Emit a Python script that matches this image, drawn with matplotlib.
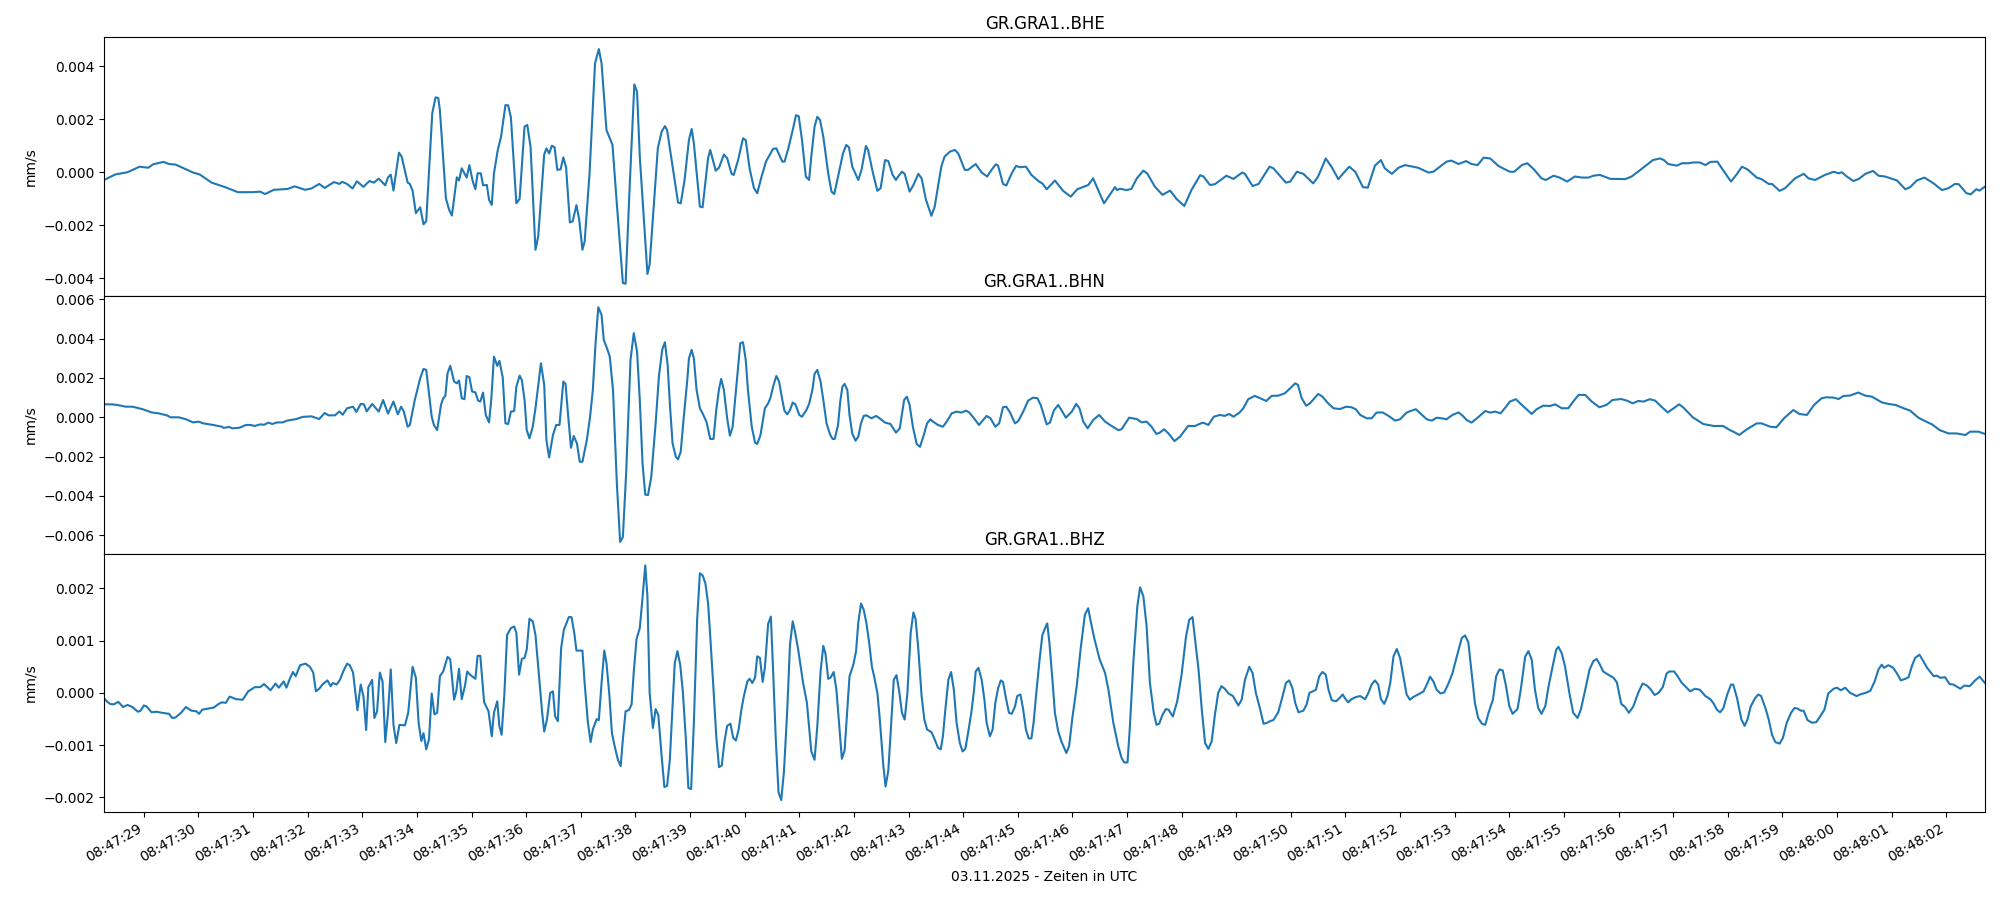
import numpy as np
import matplotlib
matplotlib.use("Agg")
import matplotlib.pyplot as plt
import matplotlib.dates as mdates
from datetime import datetime, timedelta

# Seconds after 08:47:00 and amplitude in 1e-3 mm/s
start_minute = datetime(2025, 11, 3, 8, 47, 0)
channels = ["GR.GRA1..BHE", "GR.GRA1..BHN", "GR.GRA1..BHZ"]

bhe_sec = [
    28.27, 28.48, 28.70, 28.92, 29.08, 29.17, 29.36, 29.46, 29.58, 29.74,
    29.90, 30.02, 30.24, 30.50, 30.72, 31.00, 31.13, 31.22, 31.38, 31.63,
    31.76, 31.95, 32.07, 32.21, 32.31, 32.48, 32.58, 32.63, 32.72, 32.82,
    32.90, 33.02, 33.13, 33.21, 33.30, 33.42, 33.47, 33.52, 33.57, 33.67,
    33.72, 33.83, 33.87, 33.92, 33.98, 34.06, 34.12, 34.17, 34.28, 34.34,
    34.39, 34.42, 34.53, 34.59, 34.64, 34.73, 34.77, 34.82, 34.91, 34.96,
    35.02, 35.07, 35.11, 35.17, 35.21, 35.28, 35.32, 35.37, 35.41, 35.48,
    35.54, 35.62, 35.67, 35.72, 35.82, 35.88, 35.97, 36.02, 36.08, 36.17,
    36.22, 36.33, 36.37, 36.42, 36.47, 36.52, 36.57, 36.63, 36.68, 36.73,
    36.80, 36.85, 36.92, 36.97, 37.03, 37.07, 37.16, 37.26, 37.33, 37.38,
    37.47, 37.53, 37.58, 37.65, 37.77, 37.82, 37.90, 37.98, 38.03, 38.08,
    38.22, 38.26, 38.41, 38.48, 38.54, 38.58, 38.69, 38.78, 38.83, 38.90,
    38.98, 39.03, 39.07, 39.18, 39.23, 39.33, 39.37, 39.47, 39.53, 39.62,
    39.68, 39.76, 39.80, 39.88, 39.97, 40.02, 40.09, 40.17, 40.23, 40.31,
    40.39, 40.52, 40.58, 40.69, 40.73, 40.80, 40.88, 40.94, 40.99, 41.05,
    41.12, 41.18, 41.22, 41.28, 41.33, 41.38, 41.44, 41.53, 41.59, 41.64,
    41.71, 41.80, 41.86, 41.91, 41.97, 42.05, 42.08, 42.14, 42.22, 42.26,
    42.35, 42.43, 42.49, 42.57, 42.63, 42.71, 42.77, 42.81, 42.88, 42.93,
    43.02, 43.09, 43.18, 43.24, 43.32, 43.42, 43.48, 43.60, 43.66, 43.76,
    43.85, 43.91, 44.03, 44.09, 44.23, 44.34, 44.44, 44.52, 44.60, 44.64,
    44.73, 44.79, 44.89, 44.97, 45.04, 45.15, 45.25, 45.39, 45.45, 45.53,
    45.68, 45.83, 45.97, 46.09, 46.29, 46.38, 46.58, 46.78, 46.82, 46.87,
    46.99, 47.08, 47.18, 47.30, 47.37, 47.51, 47.65, 47.79, 47.91, 48.05,
    48.18, 48.34, 48.40, 48.52, 48.61, 48.82, 48.95, 49.11, 49.16, 49.30,
    49.41, 49.61, 49.68, 49.91, 49.99, 50.11, 50.23, 50.41, 50.50, 50.64,
    50.75, 50.87, 50.96, 51.07, 51.18, 51.32, 51.41, 51.54, 51.65, 51.72,
    51.85, 51.97, 52.09, 52.33, 52.52, 52.61, 52.73, 52.85, 52.94, 53.07,
    53.21, 53.31, 53.42, 53.53, 53.65, 53.80, 53.92, 54.01, 54.09, 54.23,
    54.33, 54.45, 54.59, 54.67, 54.81, 54.92, 55.06, 55.20, 55.33, 55.45,
    55.54, 55.66, 55.85, 55.97, 56.12, 56.24, 56.40, 56.63, 56.76, 56.83,
    56.91, 57.07, 57.16, 57.28, 57.37, 57.49, 57.59, 57.68, 57.81, 57.92,
    58.06, 58.17, 58.26, 58.36, 58.53, 58.62, 58.75, 58.81, 58.95, 59.05,
    59.23, 59.39, 59.48, 59.60, 59.78, 59.94, 60.03, 60.09, 60.18, 60.30,
    60.40, 60.52, 60.66, 60.76, 60.88, 61.10, 61.25, 61.34, 61.46, 61.60,
    61.77, 61.92, 62.04, 62.16, 62.23, 62.37, 62.45, 62.55, 62.61, 62.71,
]
bhe_val = [
    -0.29, -0.08, 0.00, 0.21, 0.17, 0.30, 0.39, 0.31, 0.29, 0.14,
    -0.01, -0.08, -0.39, -0.57, -0.75, -0.75, -0.73, -0.82, -0.66, -0.63,
    -0.53, -0.66, -0.61, -0.44, -0.59, -0.37, -0.44, -0.36, -0.44, -0.61,
    -0.34, -0.55, -0.33, -0.39, -0.24, -0.49, -0.19, -0.09, -0.69, 0.74,
    0.59, -0.39, -0.44, -0.69, -1.54, -1.32, -1.96, -1.84, 2.22, 2.82,
    2.80, 2.34, -0.98, -1.42, -1.63, -0.19, -0.31, 0.15, -0.20, 0.27,
    -0.33, -0.64, -0.04, -0.04, -0.49, -0.48, -1.04, -1.23, -0.04, 0.84,
    1.34, 2.53, 2.52, 2.07, -1.17, -1.00, 1.72, 1.78, 0.96, -2.92,
    -2.42, 0.67, 0.90, 0.71, 1.00, 0.94, 0.09, 0.11, 0.56, 0.19,
    -1.89, -1.85, -1.24, -1.77, -2.92, -2.61, -0.04, 4.10, 4.64, 4.10,
    1.59, 1.28, 1.03, -0.92, -4.17, -4.20, -0.29, 3.31, 3.03, 0.59,
    -3.83, -3.48, 0.90, 1.53, 1.74, 1.59, 0.09, -1.14, -1.17, -0.29,
    1.22, 1.63, 1.09, -1.29, -1.32, 0.53, 0.84, 0.06, 0.17, 0.67,
    0.53, -0.06, -0.10, 0.46, 1.28, 1.21, 0.15, -0.60, -0.79, -0.16,
    0.40, 0.88, 0.90, 0.40, 0.40, 0.90, 1.59, 2.15, 2.11, 1.21,
    -0.16, -0.29, 0.59, 1.72, 2.09, 1.97, 1.34, -0.04, -0.73, -0.82,
    -0.16, 0.71, 1.03, 0.94, 0.21, -0.16, -0.29, 0.09, 0.99, 0.84,
    -0.04, -0.70, -0.60, 0.46, 0.42, -0.10, -0.29, -0.16, 0.02, -0.06,
    -0.73, -0.48, -0.06, -0.23, -1.04, -1.64, -1.29, 0.21, 0.59, 0.78,
    0.84, 0.71, 0.09, 0.09, 0.31, -0.01, -0.16, 0.09, 0.30, 0.25,
    -0.44, -0.50, -0.04, 0.24, 0.19, 0.21, -0.10, -0.35, -0.42, -0.64,
    -0.31, -0.70, -0.92, -0.64, -0.48, -0.23, -1.17, -0.56, -0.67, -0.62,
    -0.67, -0.63, -0.23, 0.06, -0.04, -0.54, -0.85, -0.69, -1.01, -1.27,
    -0.67, -0.11, -0.16, -0.48, -0.45, -0.13, -0.25, -0.01, -0.06, -0.52,
    -0.44, 0.21, 0.15, -0.39, -0.35, 0.02, -0.06, -0.42, -0.16, 0.52,
    0.19, -0.26, -0.04, 0.21, 0.02, -0.56, -0.58, 0.25, 0.46, 0.15,
    -0.06, 0.17, 0.27, 0.17, -0.01, 0.02, 0.21, 0.40, 0.44, 0.31,
    0.42, 0.31, 0.27, 0.55, 0.52, 0.24, 0.11, 0.02, 0.02, 0.27,
    0.34, 0.11, -0.23, -0.29, -0.13, -0.20, -0.35, -0.16, -0.20, -0.20,
    -0.13, -0.10, -0.25, -0.25, -0.26, -0.16, 0.09, 0.46, 0.52, 0.46,
    0.31, 0.25, 0.34, 0.34, 0.37, 0.37, 0.27, 0.39, 0.40, 0.06,
    -0.35, -0.06, 0.21, 0.11, -0.20, -0.26, -0.44, -0.44, -0.70, -0.60,
    -0.23, -0.06, -0.23, -0.29, -0.10, 0.02, -0.04, 0.00, -0.16, -0.33,
    -0.25, -0.06, 0.05, -0.13, -0.16, -0.31, -0.64, -0.56, -0.31, -0.20,
    -0.42, -0.67, -0.60, -0.44, -0.45, -0.79, -0.83, -0.64, -0.69, -0.54,
]

bhn_sec = [
    28.27, 28.41, 28.51, 28.67, 28.79, 28.98, 29.14, 29.27, 29.42, 29.49,
    29.64, 29.77, 29.90, 30.00, 30.09, 30.27, 30.43, 30.46, 30.56, 30.62,
    30.75, 30.87, 30.95, 31.03, 31.13, 31.20, 31.28, 31.35, 31.44, 31.54,
    31.62, 31.79, 31.91, 32.07, 32.14, 32.21, 32.31, 32.38, 32.50, 32.58,
    32.64, 32.72, 32.83, 32.89, 32.97, 33.03, 33.08, 33.18, 33.30, 33.38,
    33.47, 33.57, 33.65, 33.71, 33.76, 33.83, 33.87, 33.96, 34.06, 34.12,
    34.17, 34.27, 34.31, 34.37, 34.44, 34.48, 34.52, 34.56, 34.61, 34.68,
    34.73, 34.77, 34.82, 34.87, 34.91, 34.96, 35.01, 35.07, 35.12, 35.16,
    35.21, 35.26, 35.32, 35.36, 35.41, 35.47, 35.51, 35.57, 35.62, 35.67,
    35.72, 35.78, 35.82, 35.88, 35.92, 35.97, 36.01, 36.06, 36.12, 36.17,
    36.27, 36.33, 36.37, 36.42, 36.49, 36.55, 36.61, 36.68, 36.72, 36.77,
    36.82, 36.87, 36.93, 36.98, 37.03, 37.11, 37.17, 37.22, 37.27, 37.32,
    37.38, 37.42, 37.48, 37.53, 37.59, 37.66, 37.72, 37.77, 37.83, 37.91,
    37.97, 38.03, 38.08, 38.13, 38.18, 38.23, 38.29, 38.37, 38.43, 38.49,
    38.54, 38.59, 38.63, 38.68, 38.74, 38.78, 38.83, 38.88, 38.95, 38.98,
    39.03, 39.07, 39.12, 39.18, 39.23, 39.30, 39.37, 39.43, 39.48, 39.53,
    39.57, 39.62, 39.68, 39.73, 39.78, 39.83, 39.88, 39.92, 39.97, 40.02,
    40.06, 40.13, 40.19, 40.23, 40.29, 40.37, 40.43, 40.47, 40.53, 40.58,
    40.63, 40.69, 40.73, 40.78, 40.83, 40.88, 40.93, 41.00, 41.05, 41.13,
    41.18, 41.24, 41.28, 41.33, 41.39, 41.44, 41.50, 41.56, 41.61, 41.65,
    41.71, 41.75, 41.79, 41.83, 41.88, 41.92, 41.97, 42.03, 42.08, 42.13,
    42.18, 42.23, 42.32, 42.41, 42.47, 42.57, 42.67, 42.77, 42.84, 42.92,
    42.97, 43.02, 43.08, 43.15, 43.21, 43.27, 43.34, 43.40, 43.45, 43.54,
    43.63, 43.70, 43.79, 43.88, 43.97, 44.05, 44.11, 44.20, 44.29, 44.43,
    44.50, 44.59, 44.66, 44.73, 44.79, 44.86, 44.95, 45.01, 45.10, 45.19,
    45.28, 45.36, 45.42, 45.53, 45.59, 45.66, 45.74, 45.80, 45.88, 45.99,
    46.07, 46.13, 46.20, 46.28, 46.38, 46.49, 46.60, 46.69, 46.84, 46.90,
    47.04, 47.18, 47.27, 47.36, 47.45, 47.54, 47.60, 47.68, 47.76, 47.87,
    47.97, 48.12, 48.25, 48.31, 48.39, 48.49, 48.59, 48.70, 48.79, 48.87,
    48.95, 49.06, 49.13, 49.22, 49.34, 49.44, 49.55, 49.65, 49.77, 49.89,
    49.99, 50.08, 50.13, 50.20, 50.28, 50.35, 50.50, 50.58, 50.67, 50.78,
    50.90, 51.01, 51.11, 51.19, 51.27, 51.39, 51.48, 51.57, 51.68, 51.79,
    51.91, 52.00, 52.12, 52.21, 52.29, 52.37, 52.49, 52.58, 52.67, 52.76,
    52.85, 52.96, 53.07, 53.15, 53.22, 53.31, 53.42, 53.56, 53.65, 53.74,
    53.84, 53.94, 54.01, 54.12, 54.23, 54.41, 54.50, 54.62, 54.75, 54.84,
    54.96, 55.08, 55.17, 55.27, 55.39, 55.51, 55.65, 55.78, 55.89, 56.05,
    56.15, 56.26, 56.36, 56.46, 56.57, 56.67, 56.77, 56.90, 57.01, 57.11,
    57.19, 57.36, 57.55, 57.74, 57.91, 58.04, 58.13, 58.21, 58.35, 58.53,
    58.62, 58.78, 58.89, 59.03, 59.20, 59.31, 59.45, 59.58, 59.72, 59.81,
    59.94, 60.03, 60.12, 60.23, 60.30, 60.39, 60.52, 60.64, 60.82, 60.94,
    61.07, 61.22, 61.34, 61.49, 61.61, 61.74, 61.88, 62.04, 62.19, 62.35,
    62.44, 62.59, 62.71,
]
bhn_val = [
    0.66, 0.66, 0.63, 0.54, 0.54, 0.41, 0.25, 0.20, 0.10, 0.00,
    0.00, -0.10, -0.26, -0.22, -0.31, -0.39, -0.48, -0.54, -0.49, -0.56,
    -0.53, -0.39, -0.39, -0.44, -0.36, -0.38, -0.27, -0.34, -0.26, -0.26,
    -0.17, -0.09, 0.02, 0.05, -0.02, -0.09, 0.22, 0.10, 0.10, 0.30,
    0.13, 0.46, 0.54, 0.27, 0.68, 0.66, 0.30, 0.68, 0.29, 0.88,
    0.19, 0.80, 0.15, 0.54, 0.29, -0.48, -0.39, 0.88, 1.99, 2.46,
    2.41, 0.03, -0.39, -0.65, 0.63, 0.97, 1.09, 2.24, 2.62, 1.82,
    1.73, 1.87, 0.97, 0.92, 2.10, 2.04, 1.31, 1.27, 0.85, 0.80,
    1.26, 0.12, -0.26, 0.88, 3.09, 2.62, 2.87, 2.04, -0.31, -0.34,
    0.29, 0.32, 1.56, 2.12, 1.90, 0.88, -0.65, -1.07, -0.48, 0.46,
    2.75, 1.65, -1.16, -2.04, -0.90, -0.39, -0.39, 1.82, 1.70, 0.03,
    -1.55, -0.95, -1.33, -2.26, -2.26, -1.16, 0.03, 1.39, 3.77, 5.60,
    5.21, 3.94, 3.51, 3.09, 1.39, -3.37, -6.34, -6.09, -2.86, 2.92,
    4.28, 3.34, 0.88, -2.35, -3.93, -3.96, -3.03, -0.31, 2.07, 3.43,
    3.82, 2.66, 0.71, -1.33, -2.01, -2.14, -1.75, -0.14, 1.90, 3.00,
    3.43, 3.00, 1.39, 0.46, 0.20, -0.22, -1.10, -1.10, 0.37, 1.42,
    1.95, 1.39, -0.05, -0.94, -0.48, 1.05, 2.58, 3.77, 3.82, 2.92,
    1.39, -0.48, -1.28, -1.36, -0.90, 0.46, 0.71, 0.97, 1.65, 2.10,
    1.82, 0.88, 0.32, 0.15, 0.37, 0.75, 0.66, 0.12, 0.03, 0.37,
    0.68, 1.39, 2.21, 2.41, 1.82, 0.88, -0.31, -0.85, -1.10, -1.10,
    -0.39, 0.80, 1.56, 1.70, 1.39, 0.12, -0.82, -1.19, -0.99, -0.31,
    0.07, 0.10, -0.05, 0.07, -0.05, -0.27, -0.34, -0.78, -0.56, 0.88,
    1.05, 0.63, -0.48, -1.36, -1.50, -0.99, -0.31, -0.10, -0.22, -0.39,
    -0.48, -0.22, 0.20, 0.29, 0.24, 0.34, 0.25, -0.05, -0.39, 0.07,
    -0.05, -0.48, -0.31, 0.51, 0.54, 0.24, -0.31, -0.19, 0.29, 0.85,
    1.00, 0.97, 0.63, -0.36, -0.27, 0.34, 0.63, 0.37, -0.02, 0.29,
    0.68, 0.46, -0.22, -0.56, -0.14, 0.12, -0.22, -0.39, -0.65, -0.61,
    -0.02, -0.09, -0.26, -0.22, -0.48, -0.85, -0.78, -0.61, -0.82, -1.21,
    -0.99, -0.44, -0.44, -0.36, -0.27, -0.39, 0.03, 0.12, 0.07, 0.17,
    0.03, 0.24, 0.46, 0.92, 1.09, 0.97, 0.83, 1.09, 1.10, 1.22,
    1.48, 1.73, 1.65, 0.97, 0.59, 0.71, 1.19, 1.05, 0.75, 0.46,
    0.42, 0.54, 0.51, 0.41, 0.12, -0.05, -0.05, 0.24, 0.25, 0.07,
    -0.17, -0.10, 0.24, 0.34, 0.41, 0.20, -0.10, -0.17, -0.02, -0.05,
    -0.10, 0.12, 0.25, 0.07, -0.14, -0.27, -0.02, 0.32, 0.24, 0.29,
    0.20, 0.54, 0.80, 0.92, 0.63, 0.17, 0.41, 0.59, 0.58, 0.66,
    0.46, 0.46, 0.80, 1.14, 1.14, 0.80, 0.51, 0.63, 0.88, 0.93,
    0.85, 0.71, 0.83, 0.80, 0.92, 0.85, 0.58, 0.25, 0.46, 0.66,
    0.49, 0.00, -0.34, -0.44, -0.44, -0.65, -0.77, -0.90, -0.61, -0.31,
    -0.31, -0.48, -0.51, -0.05, 0.37, 0.17, 0.12, 0.63, 0.97, 1.02,
    1.00, 0.93, 1.09, 1.10, 1.17, 1.26, 1.10, 1.05, 0.76, 0.68,
    0.63, 0.46, 0.34, -0.02, -0.19, -0.36, -0.65, -0.82, -0.82, -0.90,
    -0.73, -0.73, -0.85,
]

bhz_sec = [
    28.27, 28.32, 28.38, 28.45, 28.53, 28.62, 28.70, 28.79, 28.89, 28.94,
    29.00, 29.05, 29.14, 29.23, 29.33, 29.46, 29.52, 29.58, 29.68, 29.77,
    29.87, 29.96, 30.01, 30.07, 30.18, 30.28, 30.37, 30.43, 30.50, 30.57,
    30.69, 30.81, 30.91, 31.03, 31.13, 31.20, 31.32, 31.41, 31.47, 31.56,
    31.61, 31.68, 31.73, 31.78, 31.86, 31.96, 32.04, 32.10, 32.15, 32.21,
    32.27, 32.36, 32.42, 32.46, 32.53, 32.59, 32.65, 32.72, 32.77, 32.83,
    32.91, 32.97, 33.02, 33.07, 33.11, 33.18, 33.22, 33.27, 33.32, 33.37,
    33.42, 33.47, 33.52, 33.57, 33.62, 33.68, 33.78, 33.84, 33.92, 33.98,
    34.03, 34.08, 34.12, 34.17, 34.22, 34.27, 34.32, 34.37, 34.42, 34.48,
    34.56, 34.61, 34.68, 34.72, 34.77, 34.82, 34.88, 34.92, 34.97, 35.07,
    35.11, 35.16, 35.23, 35.31, 35.37, 35.41, 35.47, 35.51, 35.55, 35.60,
    35.65, 35.72, 35.78, 35.82, 35.87, 35.92, 35.97, 36.01, 36.06, 36.12,
    36.17, 36.23, 36.29, 36.33, 36.38, 36.44, 36.49, 36.53, 36.58, 36.64,
    36.69, 36.74, 36.78, 36.83, 36.88, 36.92, 37.03, 37.07, 37.13, 37.18,
    37.22, 37.29, 37.33, 37.38, 37.43, 37.47, 37.52, 37.57, 37.62, 37.68,
    37.73, 37.77, 37.82, 37.88, 37.93, 37.97, 38.02, 38.08, 38.13, 38.18,
    38.22, 38.26, 38.32, 38.37, 38.42, 38.48, 38.53, 38.58, 38.63, 38.68,
    38.72, 38.77, 38.82, 38.87, 38.92, 38.97, 39.02, 39.07, 39.13, 39.18,
    39.23, 39.28, 39.33, 39.37, 39.43, 39.48, 39.53, 39.58, 39.63, 39.68,
    39.74, 39.79, 39.84, 39.89, 39.94, 39.99, 40.05, 40.09, 40.14, 40.19,
    40.23, 40.28, 40.33, 40.37, 40.43, 40.48, 40.52, 40.57, 40.62, 40.67,
    40.72, 40.78, 40.83, 40.88, 40.92, 40.98, 41.07, 41.14, 41.22, 41.28,
    41.33, 41.39, 41.44, 41.48, 41.53, 41.57, 41.63, 41.68, 41.73, 41.78,
    41.83, 41.88, 41.92, 41.99, 42.04, 42.08, 42.13, 42.18, 42.23, 42.28,
    42.33, 42.37, 42.43, 42.47, 42.54, 42.58, 42.63, 42.68, 42.73, 42.78,
    42.83, 42.88, 42.93, 42.98, 43.04, 43.09, 43.13, 43.18, 43.24, 43.29,
    43.34, 43.42, 43.48, 43.54, 43.59, 43.63, 43.68, 43.73, 43.78, 43.83,
    43.88, 43.94, 43.99, 44.04, 44.09, 44.15, 44.20, 44.23, 44.28, 44.34,
    44.39, 44.43, 44.49, 44.54, 44.59, 44.64, 44.69, 44.73, 44.79, 44.84,
    44.89, 44.95, 44.99, 45.05, 45.10, 45.15, 45.20, 45.25, 45.29, 45.34,
    45.40, 45.45, 45.50, 45.54, 45.58, 45.64, 45.68, 45.74, 45.80, 45.89,
    45.94, 46.00, 46.08, 46.15, 46.23, 46.29, 46.33, 46.40, 46.50, 46.60,
    46.66, 46.75, 46.84, 46.90, 46.95, 47.01, 47.05, 47.12, 47.19, 47.24,
    47.30, 47.36, 47.42, 47.49, 47.54, 47.59, 47.65, 47.71, 47.76, 47.84,
    47.92, 48.00, 48.08, 48.14, 48.20, 48.24, 48.31, 48.37, 48.43, 48.49,
    48.55, 48.61, 48.67, 48.73, 48.79, 48.86, 48.94, 49.04, 49.10, 49.16,
    49.24, 49.30, 49.36, 49.44, 49.50, 49.57, 49.62, 49.68, 49.77, 49.85,
    49.91, 49.97, 50.03, 50.08, 50.14, 50.23, 50.29, 50.34, 50.40, 50.46,
    50.52, 50.58, 50.64, 50.69, 50.75, 50.83, 50.89, 50.95, 50.99, 51.05,
    51.11, 51.19, 51.27, 51.36, 51.42, 51.48, 51.54, 51.60, 51.65, 51.71,
    51.77, 51.82, 51.88, 51.94, 52.00, 52.06, 52.12, 52.18, 52.24, 52.33,
    52.43, 52.49, 52.55, 52.61, 52.67, 52.74, 52.81, 52.89, 52.96, 53.04,
    53.13, 53.19, 53.25, 53.31, 53.37, 53.43, 53.50, 53.56, 53.62, 53.70,
    53.76, 53.82, 53.88, 53.94, 54.00, 54.06, 54.15, 54.21, 54.29, 54.35,
    54.41, 54.47, 54.53, 54.59, 54.66, 54.72, 54.80, 54.86, 54.90, 54.96,
    55.02, 55.10, 55.17, 55.25, 55.31, 55.39, 55.47, 55.54, 55.60, 55.65,
    55.72, 55.81, 55.91, 55.97, 56.05, 56.12, 56.19, 56.27, 56.36, 56.44,
    56.52, 56.58, 56.66, 56.73, 56.81, 56.88, 56.93, 57.02, 57.08, 57.16,
    57.22, 57.31, 57.40, 57.49, 57.59, 57.68, 57.74, 57.80, 57.86, 57.92,
    57.99, 58.06, 58.10, 58.17, 58.25, 58.31, 58.36, 58.42, 58.50, 58.56,
    58.61, 58.69, 58.75, 58.81, 58.87, 58.95, 59.01, 59.08, 59.16, 59.22,
    59.28, 59.34, 59.39, 59.46, 59.54, 59.62, 59.69, 59.77, 59.84, 59.94,
    60.00, 60.07, 60.15, 60.24, 60.36, 60.42, 60.52, 60.61, 60.69, 60.76,
    60.82, 60.86, 60.94, 61.03, 61.10, 61.17, 61.25, 61.31, 61.37, 61.43,
    61.51, 61.58, 61.65, 61.77, 61.83, 61.89, 61.98, 62.06, 62.13, 62.26,
    62.33, 62.43, 62.53, 62.61, 62.71,
]
bhz_val = [
    -0.10, -0.16, -0.21, -0.22, -0.17, -0.27, -0.23, -0.27, -0.36, -0.34,
    -0.24, -0.26, -0.37, -0.36, -0.38, -0.40, -0.48, -0.47, -0.38, -0.27,
    -0.34, -0.35, -0.40, -0.32, -0.30, -0.28, -0.21, -0.18, -0.19, -0.07,
    -0.12, -0.13, 0.03, 0.11, 0.11, 0.17, 0.05, 0.18, 0.10, 0.22,
    0.10, 0.29, 0.40, 0.32, 0.53, 0.56, 0.50, 0.39, 0.03, 0.08,
    0.16, 0.24, 0.13, 0.19, 0.16, 0.25, 0.41, 0.56, 0.53, 0.39,
    -0.33, 0.16, -0.06, -0.71, 0.11, 0.25, -0.48, -0.35, 0.39, 0.22,
    -0.94, -0.38, 0.45, -0.61, -0.96, -0.61, -0.62, -0.38, 0.50, 0.29,
    -0.57, -0.92, -0.77, -1.08, -0.89, -0.01, -0.41, -0.38, 0.32, 0.41,
    0.69, 0.64, -0.13, 0.03, 0.46, -0.12, 0.14, 0.41, 0.35, 0.27,
    0.71, 0.71, -0.18, -0.35, -0.83, -0.38, -0.16, -0.64, -0.80, -0.03,
    1.11, 1.24, 1.27, 1.15, 0.35, 0.65, 0.67, 0.83, 1.42, 1.37,
    1.11, 0.38, -0.35, -0.74, -0.51, 0.00, 0.03, -0.45, -0.54, 0.86,
    1.21, 1.34, 1.45, 1.45, 1.15, 0.81, 0.81, 0.19, -0.57, -0.94,
    -0.70, -0.50, -0.52, 0.19, 0.81, 0.57, 0.00, -0.77, -1.02, -1.28,
    -1.40, -0.89, -0.35, -0.33, -0.22, 0.41, 1.03, 1.24, 1.82, 2.44,
    1.85, 0.00, -0.67, -0.31, -0.43, -1.21, -1.80, -1.78, -1.28, -0.26,
    0.57, 0.80, 0.54, 0.00, -0.83, -1.82, -1.84, -0.57, 1.40, 2.29,
    2.25, 2.10, 1.72, 1.08, 0.06, -0.83, -1.42, -1.39, -0.93, -0.63,
    -0.59, -0.86, -0.91, -0.70, -0.32, -0.04, 0.22, 0.27, 0.19, 0.29,
    0.70, 0.67, 0.21, 0.48, 1.32, 1.46, 0.45, -0.89, -1.90, -2.05,
    -1.50, -0.32, 0.92, 1.37, 1.18, 0.83, 0.19, -0.19, -1.12, -1.28,
    -0.64, 0.41, 0.90, 0.75, 0.27, 0.29, 0.40, 0.06, -0.61, -1.26,
    -1.10, -0.32, 0.32, 0.54, 0.80, 1.34, 1.71, 1.59, 1.33, 0.96,
    0.50, 0.32, 0.00, -0.45, -1.40, -1.79, -1.49, -0.64, 0.25, 0.34,
    0.03, -0.38, -0.51, 0.00, 1.15, 1.54, 1.41, 0.83, -0.06, -0.51,
    -0.70, -0.75, -0.89, -1.05, -1.08, -0.83, -0.26, 0.25, 0.40, 0.06,
    -0.57, -0.96, -1.12, -1.07, -0.77, -0.38, 0.06, 0.41, 0.48, 0.25,
    -0.13, -0.57, -0.83, -0.70, -0.19, 0.09, 0.24, 0.21, -0.13, -0.38,
    -0.40, -0.26, -0.06, -0.03, -0.32, -0.70, -0.87, -0.87, -0.57, 0.00,
    0.64, 1.10, 1.24, 1.33, 0.96, 0.19, -0.38, -0.73, -0.93, -1.15,
    -1.02, -0.48, 0.13, 0.83, 1.50, 1.62, 1.40, 1.05, 0.64, 0.38,
    0.06, -0.57, -1.02, -1.24, -1.33, -1.33, -0.70, 0.64, 1.66, 2.02,
    1.85, 1.27, 0.19, -0.38, -0.61, -0.59, -0.42, -0.31, -0.32, -0.45,
    -0.16, 0.35, 1.07, 1.40, 1.45, 1.08, 0.45, -0.32, -0.96, -1.07,
    -0.93, -0.42, 0.00, 0.13, 0.08, -0.01, -0.06, -0.24, -0.13, 0.25,
    0.50, 0.38, 0.00, -0.32, -0.59, -0.57, -0.54, -0.52, -0.37, -0.06,
    0.19, 0.24, 0.09, -0.19, -0.37, -0.34, -0.22, 0.00, 0.03, 0.06,
    0.32, 0.40, 0.35, 0.06, -0.14, -0.16, -0.10, -0.03, -0.10, -0.18,
    -0.12, -0.08, -0.06, -0.12, 0.00, 0.16, 0.24, 0.16, -0.12, -0.21,
    -0.06, 0.19, 0.70, 0.84, 0.67, 0.32, -0.03, -0.13, -0.08, -0.03,
    0.03, 0.16, 0.31, 0.22, 0.06, -0.01, 0.01, 0.19, 0.38, 0.70,
    1.05, 1.10, 0.97, 0.38, -0.19, -0.48, -0.59, -0.61, -0.38, -0.13,
    0.32, 0.45, 0.43, 0.13, -0.25, -0.40, -0.31, 0.06, 0.69, 0.80,
    0.64, 0.06, -0.29, -0.40, -0.25, 0.13, 0.54, 0.83, 0.88, 0.76,
    0.51, 0.00, -0.38, -0.48, -0.32, 0.06, 0.45, 0.61, 0.65, 0.56,
    0.41, 0.35, 0.29, 0.20, -0.21, -0.27, -0.38, -0.26, 0.00, 0.18,
    0.14, 0.08, -0.04, 0.00, 0.11, 0.37, 0.41, 0.41, 0.32, 0.19,
    0.13, 0.03, 0.08, 0.06, -0.06, -0.12, -0.20, -0.32, -0.37, -0.29,
    -0.03, 0.16, 0.16, -0.10, -0.51, -0.63, -0.51, -0.26, -0.10, -0.03,
    -0.06, -0.29, -0.51, -0.80, -0.94, -0.97, -0.86, -0.57, -0.38, -0.29,
    -0.30, -0.34, -0.34, -0.52, -0.57, -0.56, -0.45, -0.32, -0.01, 0.08,
    0.10, 0.05, 0.10, 0.00, -0.06, -0.03, 0.00, 0.04, 0.22, 0.45,
    0.54, 0.48, 0.53, 0.48, 0.37, 0.24, 0.27, 0.30, 0.51, 0.67,
    0.73, 0.61, 0.48, 0.32, 0.33, 0.29, 0.30, 0.17, 0.16, 0.08,
    0.14, 0.13, 0.24, 0.31, 0.19,
]

traces = [(bhe_sec, bhe_val), (bhn_sec, bhn_val), (bhz_sec, bhz_val)]

fig, axes = plt.subplots(3, 1, figsize=(20, 9), dpi=100, sharex=True)

for ax, name, (sec, val) in zip(axes, channels, traces):
    assert len(sec) == len(val), name
    times = [start_minute + timedelta(seconds=s) for s in sec]
    ax.plot(mdates.date2num(times), np.array(val) * 1e-3, color="#1f77b4", linewidth=1.5)
    ax.set_title(name, fontsize=12)
    ax.set_ylabel("mm/s")

t0 = mdates.date2num(start_minute + timedelta(seconds=min(bhe_sec)))
t1 = mdates.date2num(start_minute + timedelta(seconds=max(bhe_sec)))
axes[-1].set_xlim(t0, t1)
axes[-1].xaxis.set_major_locator(mdates.SecondLocator(interval=1))
axes[-1].xaxis.set_major_formatter(mdates.DateFormatter("%H:%M:%S"))
axes[-1].set_xlabel("03.11.2025 - Zeiten in UTC")
fig.autofmt_xdate()
# autofmt_xdate moves the bottom edge, so set the layout afterwards
fig.subplots_adjust(left=0.052, right=0.9925, top=0.9585, bottom=0.098, hspace=0)

fig.savefig("out.png", dpi=100)
